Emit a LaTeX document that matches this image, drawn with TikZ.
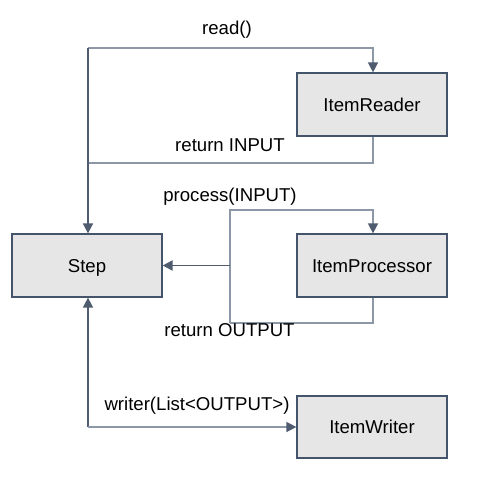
\documentclass[tikz,border=0pt]{standalone}
\usepackage{fontspec}
\setmainfont{Liberation Sans}
\usetikzlibrary{arrows.meta}
\definecolor{boxfill}{HTML}{E6E6E6}
\definecolor{boxline}{HTML}{44546A}
\definecolor{lightln}{HTML}{8C97A8}
\definecolor{darkln}{HTML}{4F5B6E}
\tikzset{
  compbox/.style={draw=boxline, fill=boxfill, line width=1.2pt, minimum width=150pt, minimum height=63pt, inner sep=0pt, text height=13.3pt, text depth=0pt, font=\fontsize{18.6pt}{22pt}\selectfont},
  lbl/.style={anchor=base, inner sep=0pt, font=\fontsize{18.6pt}{22pt}\selectfont},
  lline/.style={draw=lightln, line width=1.4pt},
  dline/.style={draw=darkln, line width=1.5pt},
  arr/.style={-{Triangle[length=10pt,width=10pt,color=darkln]}},
}
\begin{document}
\begin{tikzpicture}[x=1pt,y=-1pt]
\useasboundingbox (0,0) rectangle (484,480);
\node[compbox] (step) at (87,265.5) {Step};
\node[compbox] (reader) at (372,104.5) {ItemReader};
\node[compbox] (proc) at (372,265.5) {ItemProcessor};
\node[compbox, minimum height=62pt] (writer) at (372,427) {ItemWriter};

\coordinate (r1) at (88,48);
\coordinate (r2) at (88,163);
\coordinate (p1) at (230,210);
\coordinate (p2) at (230,323);
\coordinate (p3) at (230,265.5);
\coordinate (w1) at (88,427);

% read / return INPUT
\draw[lline, arr] (r1) -| ([xshift=1pt]reader.north);
\draw[lline] ([xshift=1pt]reader.south) |- (r2);
\draw[dline, arr] (r1) -- ([xshift=1pt]step.north);

% process / return OUTPUT
\draw[lline, arr] (p2) -- (p1) -| ([xshift=1pt]proc.north);
\draw[lline] ([xshift=1pt]proc.south) |- (p2);
\draw[dline, line width=1.9pt, arr] (p3) -- (step.east);

% writer
\draw[dline, arr] (w1) -- ([xshift=1pt]step.south);
\draw[lline, arr] (w1) -- (writer.west);

\node[lbl] (l1) at (227,34.5) {read()};
\node[lbl] (l2) at (230,151.6) {return INPUT};
\node[lbl] (l3) at (230,201.6) {process(INPUT)};
\node[lbl] (l4) at (229.5,336.5) {return OUTPUT};
\node[lbl] (l5) at (197,410.7) {writer(List<OUTPUT>)};
\end{tikzpicture}
\end{document}
